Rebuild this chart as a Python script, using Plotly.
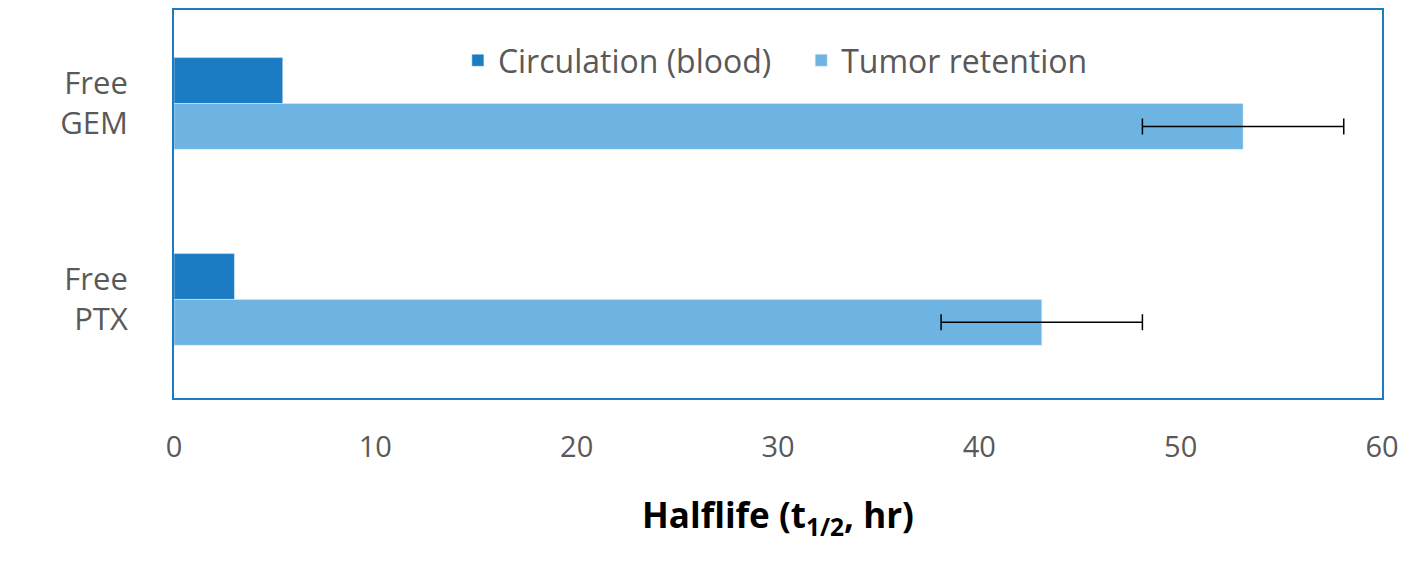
import plotly.graph_objects as go

categories = ["Free<br>PTX", "Free<br>GEM"]
circulation = [3.0, 5.4]
tumor = [43.1, 53.1]
tumor_err = [5.0, 5.0]
pos = [0, 1]
w = 0.234

fig = go.Figure()
fig.add_trace(go.Bar(orientation="h", y=[p + w/2 for p in pos], x=circulation, width=w,
                     marker_color="#1B7CC3", name="Circulation (blood)   "))
fig.add_trace(go.Bar(orientation="h", y=[p - w/2 for p in pos], x=tumor, width=w,
                     marker_color="#6DB4E3", name="Tumor retention",
                     error_x=dict(type="data", array=tumor_err, color="black", thickness=1.5, width=8)))
fig.update_layout(
    width=1427, height=562, margin=dict(l=166, r=53, t=0, b=172),
    plot_bgcolor="white", paper_bgcolor="white", barmode="overlay",
    font=dict(family="Open Sans, DejaVu Sans", color="#595959"),
    legend=dict(orientation="h", x=0.235, y=0.87, xanchor="left", yanchor="middle",
                font=dict(size=32, color="#595959"), bgcolor="rgba(0,0,0,0)",
                itemwidth=30, traceorder="normal"),
    xaxis=dict(range=[0, 60], dtick=10, showgrid=False, zeroline=False,
               tickfont=dict(size=29), ticks="", ticklen=0, ticklabelstandoff=22,
               showline=True, linecolor="#1B7CC3", linewidth=2, mirror=True,
               title=dict(text="<b>Halflife (t<sub>1/2</sub>, hr)</b>",
                          font=dict(size=35, color="black"), standoff=40)),
    yaxis=dict(range=[-0.503, 1.477], tickvals=pos, ticktext=categories, showgrid=False,
               zeroline=False, tickfont=dict(size=31), ticks="", ticklabelstandoff=38,
               showline=True, linecolor="#1B7CC3", linewidth=2, mirror=True),
)
fig.write_html("out.html")
